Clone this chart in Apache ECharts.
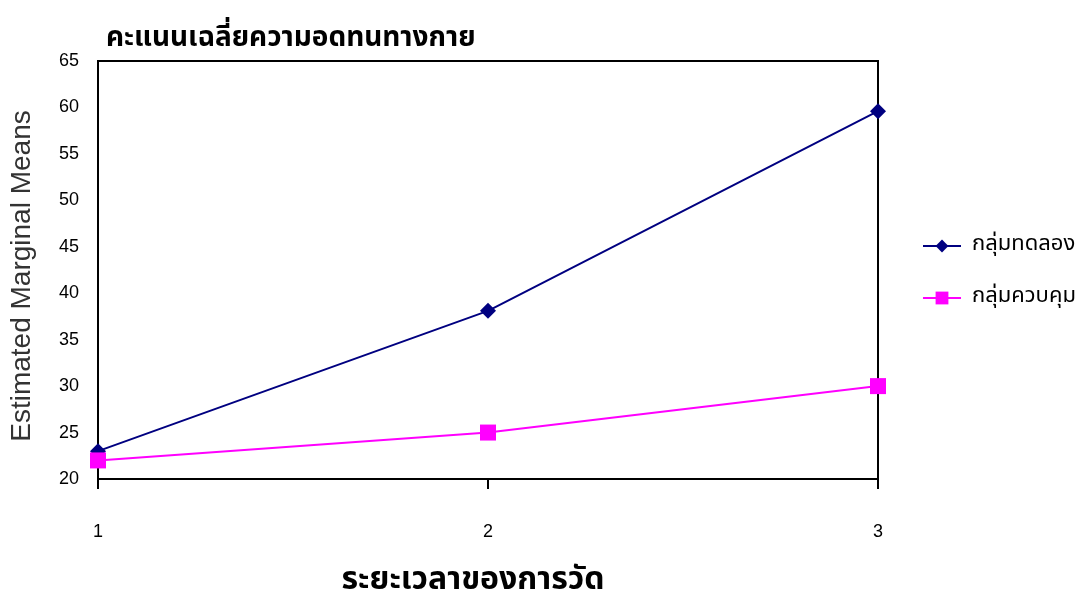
<!DOCTYPE html>
<html>
<head>
<meta charset="utf-8">
<script src="https://cdn.jsdelivr.net/npm/echarts@6/dist/echarts.min.js"></script>
<style>
  html, body { margin: 0; padding: 0; background: #fff; overflow: hidden; }
  #chart { width: 1080px; height: 592px; }
</style>
</head>
<body>
<div id="chart"></div>
<script>
// Measurement occasions and group means
const occasions = ['1', '2', '3'];
const experimentalGroup = [23.0, 38.1, 59.6];
const controlGroup = [22.0, 25.0, 30.0];
const seriesNames = ['กลุ่มทดลอง', 'กลุ่มควบคุม'];

const thaiFont = '"Noto Sans Thai", "Noto Sans", "DejaVu Sans", sans-serif';
const latinFont = '"Liberation Sans", Arial, sans-serif';

const chart = echarts.init(document.getElementById('chart'), null, { renderer: 'canvas' });

chart.setOption({
  animation: false,
  backgroundColor: '#ffffff',
  title: {
    text: 'คะแนนเฉลี่ยความอดทนทางกาย',
    left: 101,
    top: 21,
    textStyle: { fontFamily: thaiFont, fontSize: 28, fontWeight: 'bold', color: '#000' }
  },
  legend: {
    orient: 'vertical',
    left: 917,
    top: 230,
    itemGap: 30,
    itemWidth: 38,
    itemHeight: 16,
    textStyle: { fontFamily: thaiFont, fontSize: 22, color: '#000', padding: [0, 0, 0, 6] },
    data: seriesNames
  },
  grid: {
    left: 98,
    right: 202,
    top: 61,
    bottom: 113,
    show: true,
    borderColor: '#000',
    borderWidth: 2,
    containLabel: false,
    outerBoundsMode: 'none'
  },
  xAxis: {
    type: 'category',
    data: occasions,
    boundaryGap: false,
    name: 'ระยะเวลาของการวัด',
    nameLocation: 'middle',
    nameGap: 88,
    nameTextStyle: { fontFamily: thaiFont, fontSize: 32, fontWeight: 'bold', color: '#000', padding: [0, 30, 0, 0] },
    axisLine: { lineStyle: { color: '#000', width: 2 } },
    axisTick: { show: true, length: 10, inside: false, lineStyle: { color: '#000', width: 2 } },
    axisLabel: { margin: 44, fontFamily: latinFont, fontSize: 18, color: '#000' },
    splitLine: { show: false }
  },
  yAxis: {
    type: 'value',
    min: 20,
    max: 65,
    interval: 5,
    name: 'Estimated Marginal Means',
    nameLocation: 'middle',
    nameGap: 62,
    nameTextStyle: { fontFamily: latinFont, fontSize: 28, color: '#333', padding: [0, 12, 0, 0] },
    axisLine: { show: true, lineStyle: { color: '#000', width: 2 } },
    axisTick: { show: false },
    axisLabel: { margin: 19, fontFamily: latinFont, fontSize: 18, color: '#000' },
    splitLine: { show: false }
  },
  series: [
    {
      name: seriesNames[0],
      type: 'line',
      data: experimentalGroup,
      color: '#000080',
      symbol: 'diamond',
      symbolSize: 16,
      lineStyle: { width: 2, color: '#000080' },
      itemStyle: { color: '#000080' },
      z: 3
    },
    {
      name: seriesNames[1],
      type: 'line',
      data: controlGroup,
      color: '#ff00ff',
      symbol: 'rect',
      symbolSize: 16,
      lineStyle: { width: 2, color: '#ff00ff' },
      itemStyle: { color: '#ff00ff' },
      z: 4
    }
  ]
});
</script>
</body>
</html>
